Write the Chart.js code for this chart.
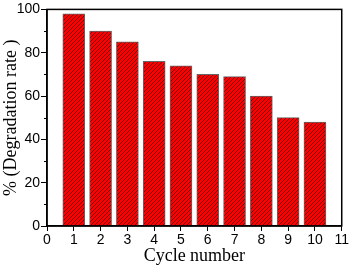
<!DOCTYPE html>
<html>
<head>
<meta charset="utf-8">
<script src="https://cdn.jsdelivr.net/npm/chart.js@4.4.0/dist/chart.umd.min.js"></script>
<style>
  html, body { margin: 0; padding: 0; background: #fff; }
  canvas { display: block; }
</style>
</head>
<body>
<canvas id="barChart" width="350" height="267"></canvas>
<script>
var cycles = [1, 2, 3, 4, 5, 6, 7, 8, 9, 10];
var degradation = [98, 90, 85, 76, 74, 70, 69, 60, 50, 48];
var xTicks = [0, 1, 2, 3, 4, 5, 6, 7, 8, 9, 10, 11];
var yTicks = [0, 20, 40, 60, 80, 100];

// red fill with dark diagonal hatch
var pc = document.createElement('canvas');
pc.width = 4; pc.height = 4;
var p = pc.getContext('2d');
p.fillStyle = '#ff0000';
p.fillRect(0, 0, 4, 4);
p.strokeStyle = '#6a0000';
p.lineWidth = 0.9;
p.beginPath();
p.moveTo(0, 4); p.lineTo(4, 0);
p.moveTo(-1, 1); p.lineTo(1, -1);
p.moveTo(3, 5); p.lineTo(5, 3);
p.stroke();
var ctx = document.getElementById('barChart').getContext('2d');
var hatch = ctx.createPattern(pc, 'repeat');

var points = [];
for (var i = 0; i < cycles.length; i++) {
    points.push({ x: cycles[i], y: degradation[i] });
}

// frame + minor ticks
var framePlugin = {
    id: 'frame',
    afterDraw: function (chart) {
        var a = chart.chartArea, c = chart.ctx;
        var ys = chart.scales.y;
        c.save();
        c.strokeStyle = '#000';
        c.lineWidth = 1.5;
        c.strokeRect(a.left, a.top, a.right - a.left, a.bottom - a.top);
        c.lineWidth = 1;
        c.beginPath();
        for (var v = 10; v < 100; v += 20) {
            var py = Math.round(ys.getPixelForValue(v)) + 0.5;
            c.moveTo(a.left - 3, py);
            c.lineTo(a.left, py);
        }
        c.stroke();
        c.restore();
    }
};

var myBarChart = new Chart(ctx, {
    type: 'bar',
    data: {
        datasets: [{
            data: points,
            backgroundColor: hatch,
            borderColor: '#666',
            borderWidth: 1,
            barThickness: 22
        }]
    },
    options: {
        responsive: false,
        animation: false,
        devicePixelRatio: 1,
        layout: { padding: { top: 7, right: 6, left: 0, bottom: 0 } },
        plugins: {
            legend: { display: false },
            tooltip: { enabled: false }
        },
        scales: {
            x: {
                type: 'linear',
                min: 0,
                max: 11,
                offset: false,
                afterBuildTicks: function (s) { s.ticks = xTicks.map(function (v) { return { value: v }; }); },
                afterFit: function (s) { s.height = 41; },
                grid: { offset: false, drawOnChartArea: false, color: '#000', tickLength: 5, tickWidth: 1 },
                border: { color: '#000', width: 1.5 },
                ticks: { color: '#000', padding: 1, font: { family: 'Liberation Sans', size: 14 } },
                title: {
                    display: true,
                    text: 'Cycle number',
                    color: '#000',
                    padding: { top: 0, bottom: 0 },
                    font: { family: 'Liberation Serif', size: 18 }
                }
            },
            y: {
                min: 0,
                max: 100,
                afterBuildTicks: function (s) { s.ticks = yTicks.map(function (v) { return { value: v }; }); },
                afterFit: function (s) { s.width = 47; },
                grid: { drawOnChartArea: false, color: '#000', tickLength: 6, tickWidth: 1 },
                border: { color: '#000', width: 1.5 },
                ticks: { color: '#000', padding: 1, font: { family: 'Liberation Sans', size: 14 } },
                title: {
                    display: true,
                    text: '% (Degradation rate )',
                    color: '#000',
                    padding: { top: 0, bottom: 1 },
                    font: { family: 'Liberation Serif', size: 18 }
                }
            }
        }
    },
    plugins: [framePlugin]
});
</script>
</body>
</html>
